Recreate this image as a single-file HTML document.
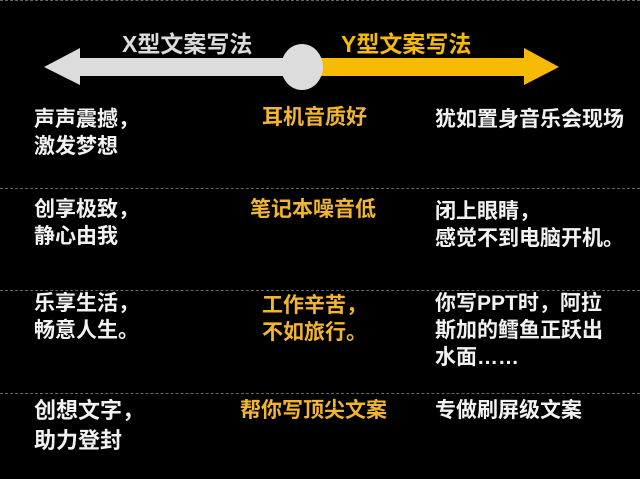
<!DOCTYPE html>
<html><head><meta charset="utf-8"><style>
body{margin:0;width:640px;height:479px;background:#000;position:relative;overflow:hidden;font-family:"Liberation Sans","Noto Sans CJK SC",sans-serif;font-weight:bold}
.t{position:absolute;font-size:21px;line-height:27px;color:#f2f2f2;white-space:nowrap}
.o{color:#f2b531}
.d{position:absolute;left:0;width:640px;border-top:1px dashed #666}
</style></head><body>
<div class="d" style="top:0"></div>
<div class="d" style="top:188px"></div>
<div class="d" style="top:290px"></div>
<div class="d" style="top:393px"></div>
<svg width="640" height="100" style="position:absolute;left:0;top:0">
<polygon points="44,67 80,48 80,58 302,58 302,76 80,76 80,85" fill="#dcdcdc"/>
<polygon points="302,58 524,58 524,48 559,67 524,85 524,76 302,76" fill="#f7bb06"/>
<ellipse cx="302" cy="67" rx="21" ry="23" fill="#dcdcdc"/>
</svg>
<div class="t" style="left:122px;top:29px;font-size:23px;line-height:30px;color:#dcdcdc">X型文案写法</div>
<div class="t" style="left:341px;top:29px;font-size:23px;line-height:30px;color:#f7bb06">Y型文案写法</div>

<div class="t" style="left:34px;top:106px">声声震撼，<br>激发梦想</div>
<div class="t o" style="left:262px;top:104px">耳机音质好</div>
<div class="t" style="left:435px;top:106px">犹如置身音乐会现场</div>

<div class="t" style="left:34px;top:196px">创享极致，<br>静心由我</div>
<div class="t o" style="left:250px;top:196px">笔记本噪音低</div>
<div class="t" style="left:435px;top:198px">闭上眼睛，<br>感觉不到电脑开机。</div>

<div class="t" style="left:34px;top:290px">乐享生活，<br>畅意人生。</div>
<div class="t o" style="left:262px;top:292px">工作辛苦，<br>不如旅行。</div>
<div class="t" style="left:435px;top:290px">你写PPT时，阿拉<br>斯加的鳕鱼正跃出<br>水面……</div>

<div class="t" style="left:34px;top:396px;font-size:22px;line-height:30px">创想文字，<br>助力登封</div>
<div class="t o" style="left:240px;top:397px">帮你写顶尖文案</div>
<div class="t" style="left:435px;top:397px">专做刷屏级文案</div>
</body></html>
